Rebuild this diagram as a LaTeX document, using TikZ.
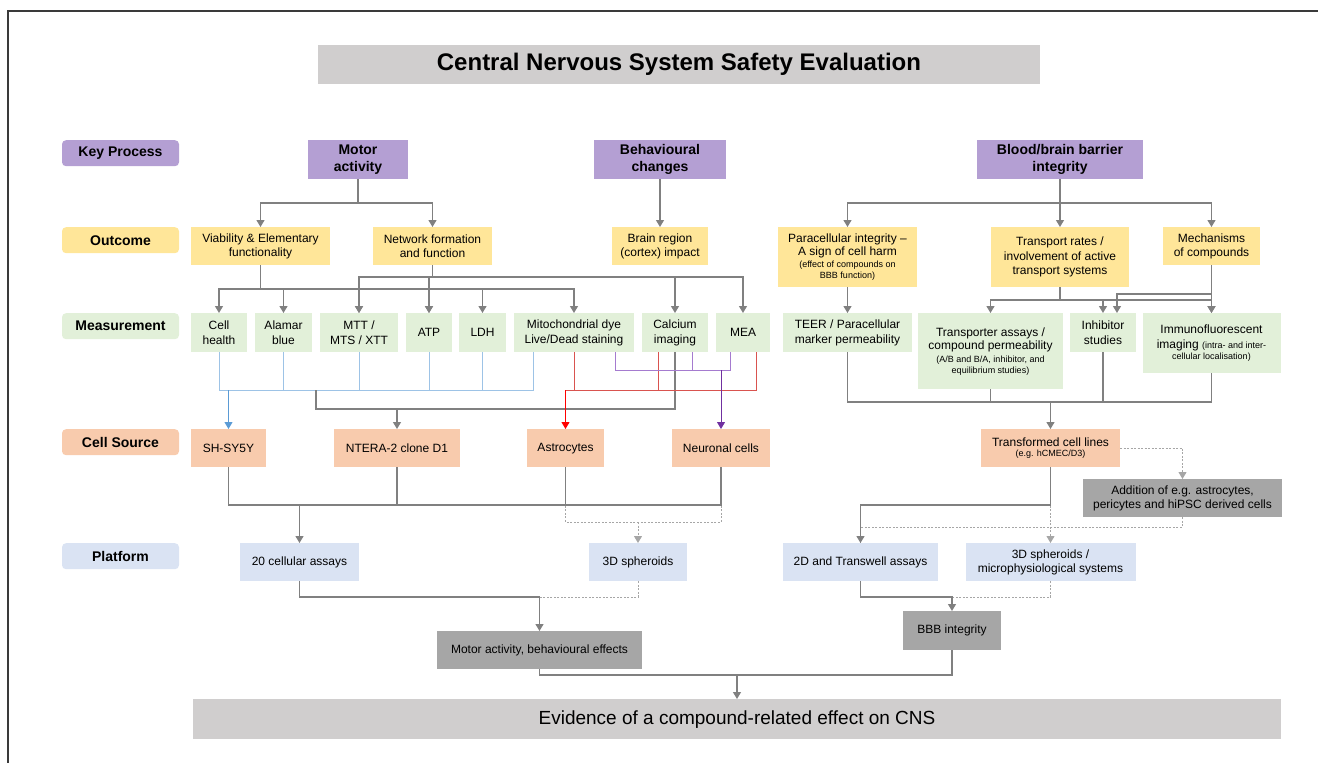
\documentclass[tikz,border=0pt]{standalone}
\usepackage{fontspec}
\setmainfont{Liberation Sans}
\usetikzlibrary{arrows.meta}
\definecolor{coulViolet}{HTML}{B49FD3}
\definecolor{coulJaune}{HTML}{FFE699}
\definecolor{coulVert}{HTML}{E2F0D9}
\definecolor{coulOrange}{HTML}{F8CBAD}
\definecolor{coulBleu}{HTML}{DAE3F3}
\definecolor{coulGrisClair}{HTML}{D0CECE}
\definecolor{coulGrisFonce}{HTML}{A6A6A6}
\definecolor{coulCadre}{HTML}{3A3A3A}
\definecolor{coulTrait}{HTML}{808080}
\definecolor{coulPointille}{HTML}{A6A6A6}
\definecolor{coulBleuTrait}{HTML}{9DC3E6}
\definecolor{coulBleuFleche}{HTML}{5B9BD5}
\definecolor{coulRougeTrait}{HTML}{D9534F}
\definecolor{coulRougeFleche}{HTML}{FF0000}
\definecolor{coulVioletTrait}{HTML}{A57BCF}
\definecolor{coulVioletFleche}{HTML}{7030A0}
\newcommand{\PetitTexte}{\fontsize{9}{11}\selectfont}
\begin{document}
\begin{tikzpicture}[x=1pt,y=-1pt]
% Styles (MODIFIABLES)
\tikzstyle{boite}=[rectangle,inner sep=0pt,align=center,anchor=north,text=black,font=\fontsize{12}{14.4}\selectfont]
\tikzstyle{titre}=[boite,fill=coulGrisClair,minimum width=722,minimum height=39,font=\fontsize{24}{28}\selectfont\bfseries]
\tikzstyle{etiquette}=[boite,rounded corners=4pt,minimum width=117,minimum height=26,font=\fontsize{14}{16.8}\selectfont\bfseries]
\tikzstyle{processus}=[boite,fill=coulViolet,minimum height=39,font=\fontsize{14}{16.8}\selectfont\bfseries]
\tikzstyle{resultat}=[boite,fill=coulJaune,minimum height=38]
\tikzstyle{mesure}=[boite,fill=coulVert,minimum height=39]
\tikzstyle{source}=[boite,fill=coulOrange,minimum height=38]
\tikzstyle{plateforme}=[boite,fill=coulBleu,minimum height=38]
\tikzstyle{effet}=[boite,fill=coulGrisFonce,minimum height=38]
\tikzstyle{trait}=[draw=coulTrait,line width=1.2pt]
\tikzstyle{fleche}=[trait,->,>={Triangle[width=8pt,length=7pt]}]
\tikzstyle{pointille}=[draw=coulPointille,line width=1pt,dash pattern=on 2pt off 1.5pt]
\tikzstyle{flechePointillee}=[pointille,->,>={Triangle[width=8pt,length=7pt]}]
\tikzstyle{ligneBleue}=[draw=coulBleuTrait,line width=1pt]
\tikzstyle{flecheBleue}=[draw=coulBleuFleche,line width=1pt,->,>={Triangle[width=8pt,length=7pt]}]
\tikzstyle{ligneRouge}=[draw=coulRougeTrait,line width=1pt]
\tikzstyle{flecheRouge}=[draw=coulRougeFleche,line width=1pt,->,>={Triangle[width=8pt,length=7pt]}]
\tikzstyle{ligneViolette}=[draw=coulVioletTrait,line width=1pt]
\tikzstyle{flecheViolette}=[draw=coulVioletFleche,line width=1pt,->,>={Triangle[width=8pt,length=7pt]}]
% Dimensions (MODIFIABLES)
\def\NiveauA{140}
\def\NiveauB{227}
\def\NiveauC{313}
\def\NiveauD{429}
\def\NiveauE{543}
\def\ColonneEtiquettes{120.5}
\useasboundingbox (0,0) rectangle (1318,763);
\draw[coulCadre,line width=1.5pt] (8,763) -- (8,11) -- (1318,11);
% Titre et etiquettes
\node[titre] (T) at (679,45) {Central Nervous System Safety Evaluation};
\node[etiquette,fill=coulViolet] (E1) at (\ColonneEtiquettes,\NiveauA) {Key Process};
\node[etiquette,fill=coulJaune] (E2) at (\ColonneEtiquettes,\NiveauB) {Outcome};
\node[etiquette,fill=coulVert] (E3) at (\ColonneEtiquettes,\NiveauC) {Measurement};
\node[etiquette,fill=coulOrange] (E4) at (\ColonneEtiquettes,\NiveauD) {Cell Source};
\node[etiquette,fill=coulBleu] (E5) at (\ColonneEtiquettes,\NiveauE) {Platform};
% Noeuds : processus
\node[processus,minimum width=100] (K1) at (358,\NiveauA) {Motor\\activity};
\node[processus,minimum width=132] (K2) at (660,\NiveauA) {Behavioural\\changes};
\node[processus,minimum width=166] (K3) at (1060,\NiveauA) {Blood/brain barrier\\integrity};
% Noeuds : resultats
\node[resultat,minimum width=139] (O1) at (260.5,\NiveauB) {Viability \& Elementary\\functionality};
\node[resultat,minimum width=119] (O2) at (432.5,\NiveauB) {Network formation\\and function};
\node[resultat,minimum width=96] (O3) at (660,\NiveauB) {Brain region\\(cortex) impact};
\node[resultat,minimum width=139,minimum height=60] (O4) at (847.5,\NiveauB) {Paracellular integrity --\\[-1.5pt]A sign of cell harm\\[-2pt]\PetitTexte (effect of compounds on\\[-3.5pt]\PetitTexte BBB function)};
\node[resultat,minimum width=138,minimum height=60] (O5) at (1060,\NiveauB) {Transport rates /\\involvement of active\\transport systems};
\node[resultat,minimum width=97] (O6) at (1211.5,\NiveauB) {Mechanisms\\of compounds};
% Noeuds : mesures
\node[mesure,minimum width=56] (M1) at (219,\NiveauC) {Cell\\health};
\node[mesure,minimum width=57] (M2) at (283.5,\NiveauC) {Alamar\\blue};
\node[mesure,minimum width=78] (M3) at (359,\NiveauC) {MTT /\\MTS / XTT};
\node[mesure,minimum width=46] (M4) at (429,\NiveauC) {ATP};
\node[mesure,minimum width=47] (M5) at (482.5,\NiveauC) {LDH};
\node[mesure,minimum width=120] (M6) at (574,\NiveauC) {Mitochondrial dye\\Live/Dead staining};
\node[mesure,minimum width=66] (M7) at (675,\NiveauC) {Calcium\\imaging};
\node[mesure,minimum width=54] (M8) at (743,\NiveauC) {MEA};
\node[mesure,minimum width=129] (M9) at (847.5,\NiveauC) {TEER / Paracellular\\marker permeability};
\node[mesure,minimum width=145,minimum height=76] (M10) at (990.5,\NiveauC) {Transporter assays /\\[-1pt]compound permeability\\[-1.5pt]\PetitTexte (A/B and B/A, inhibitor, and\\[-3.5pt]\PetitTexte equilibrium studies)};
\node[mesure,minimum width=66] (M11) at (1103,\NiveauC) {Inhibitor\\studies};
\node[mesure,minimum width=138,minimum height=60] (M12) at (1211.5,\NiveauC) {Immunofluorescent\\imaging {\PetitTexte (intra- and inter-}\\[-3pt]\PetitTexte cellular localisation)};
% Noeuds : sources cellulaires
\node[source,minimum width=75] (C1) at (228.5,\NiveauD) {SH-SY5Y};
\node[source,minimum width=126] (C2) at (397,\NiveauD) {NTERA-2 clone D1};
\node[source,minimum width=77] (C3) at (565.5,\NiveauD) {Astrocytes};
\node[source,minimum width=98] (C4) at (721,\NiveauD) {Neuronal cells};
\node[source,minimum width=139] (C5) at (1050.5,\NiveauD) {Transformed cell lines\\[-4pt]\PetitTexte (e.g. hCMEC/D3)};
\node[effet,minimum width=199] (C6) at (1182.5,479) {Addition of e.g. astrocytes,\\pericytes and hiPSC derived cells};
% Noeuds : plateformes
\node[plateforme,minimum width=119] (P1) at (299.5,\NiveauE) {20 cellular assays};
\node[plateforme,minimum width=98] (P2) at (638,\NiveauE) {3D spheroids};
\node[plateforme,minimum width=155] (P3) at (860.5,\NiveauE) {2D and Transwell assays};
\node[plateforme,minimum width=170] (P4) at (1050.5,\NiveauE) {3D spheroids /\\microphysiological systems};
% Noeuds : effets
\node[effet,minimum width=205] (R1) at (539.5,631) {Motor activity, behavioural effects};
\node[effet,minimum width=98,minimum height=39] (R2) at (952,611) {BBB integrity};
\node[boite,fill=coulGrisClair,minimum width=1088,minimum height=40,font=\fontsize{19}{22}\selectfont] (R3) at (737,699) {Evidence of a compound-related effect on CNS};
% Points de jonction
\coordinate (bK1) at (358,203);
\coordinate (bK3) at (1060,203);
\coordinate (bO1) at (260.5,289);
\coordinate (bO2) at (432.5,277);
\coordinate (bO5) at (1060,300);
\coordinate (bO6) at (1211.5,294);
\coordinate (bBleu) at (228.5,390);
\coordinate (jBleu) at (316,390);
\coordinate (bGris) at (397,409);
\coordinate (bRouge) at (565.5,390);
\coordinate (bViolet) at (721,370);
\coordinate (bBBB) at (1050.5,402);
\coordinate (bCel) at (299.5,505);
\coordinate (bPoint) at (638,522);
\coordinate (bTr) at (1050.5,505);
\coordinate (bAdd) at (1182.5,527);
\coordinate (bR1) at (539.5,597);
\coordinate (bR2) at (952,597);
\coordinate (bR3) at (737,675);
% Arcs : processus -> resultats
\foreach \o in {O1,O2} \draw[fleche] (K1.south) -- (bK1) -| (\o.north);
\draw[fleche] (K2) -- (O3);
\foreach \o in {O4,O5,O6} \draw[fleche] (K3.south) -- (bK3) -| (\o.north);
% Arcs : resultats -> mesures
\foreach \m in {M1,M2,M3,M4,M5,M6} \draw[fleche] (O1.south) -- (bO1) -| (\m.north);
\foreach \m in {M3,M4,M7,M8} \draw[fleche] (O2.south) -- (bO2) -| (\m.north);
\draw[fleche] (O4) -- (M9);
\foreach \m in {M10,M11,M12} \draw[fleche] (O5.south) -- (bO5) -| (\m.north);
\draw[fleche] (O6) -- (M12);
\draw[fleche] (O6.south) -- (bO6) -| ([xshift=14pt]M11.north);
% Arcs : mesures -> sources
\foreach \m in {M1,M2,M3,M4,M5} \draw[ligneBleue] (\m.south) |- (bBleu);
\draw[ligneBleue] ([xshift=-41pt]M6.south) |- (bBleu);
\draw[flecheBleue] (bBleu) -- (C1.north);
\draw[trait] (jBleu) |- (bGris);
\draw[trait] (M7.south) |- (bGris);
\draw[fleche] (bGris) -- (C2.north);
\draw[ligneRouge] (M6.south) |- (bRouge);
\draw[ligneRouge] ([xshift=-17pt]M7.south) |- (bRouge);
\draw[ligneRouge] ([xshift=13pt]M8.south) |- (bRouge);
\draw[flecheRouge] (bRouge) -- (C3.north);
\draw[ligneViolette] ([xshift=41pt]M6.south) |- (bViolet);
\draw[ligneViolette] ([xshift=17pt]M7.south) |- (bViolet);
\draw[ligneViolette] ([xshift=-13pt]M8.south) |- (bViolet);
\draw[flecheViolette] (bViolet) -- (C4.north);
\foreach \m in {M9,M10,M11,M12} \draw[trait] (\m.south) |- (bBBB);
\draw[fleche] (bBBB) -- (C5.north);
% Arcs : sources -> plateformes
\draw[pointille] (C3.south) |- (bPoint);
\draw[pointille] (C4.south) |- (bPoint);
\draw[flechePointillee] (bPoint) -- (P2.north);
\foreach \c in {C1,C2,C3,C4} \draw[trait] (\c.south) |- (bCel);
\draw[fleche] (bCel) -- (P1.north);
\draw[flechePointillee] (C5.east) -| (C6.north);
\draw[pointille] (C6.south) -- (bAdd) -| (P3.north);
\draw[flechePointillee] (C5.south) -- (P4.north);
\draw[fleche] (C5.south) -- (bTr) -| (P3.north);
% Arcs : plateformes -> effets
\draw[pointille] (P2.south) |- (bR1);
\draw[fleche] (P1.south) |- (bR1) -- (R1.north);
\draw[pointille] (P4.south) |- (bR2);
\draw[fleche] (P3.south) |- (bR2) -- (R2.north);
\draw[trait] (R1.south) |- (bR3);
\draw[trait] (R2.south) |- (bR3);
\draw[fleche] (bR3) -- (R3.north);
\end{tikzpicture}
\end{document}
